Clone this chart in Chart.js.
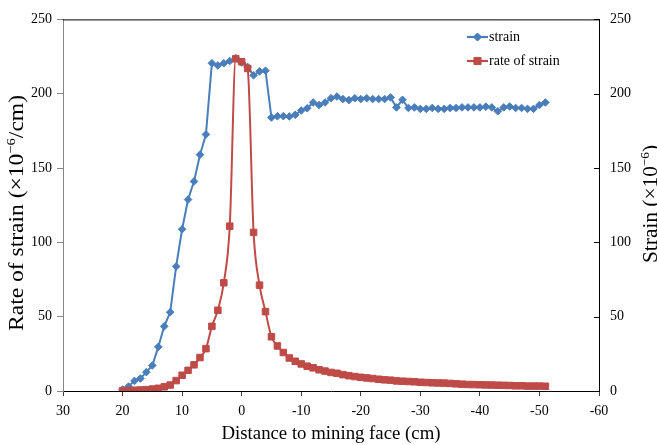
<!DOCTYPE html>
<html>
<head>
<meta charset="utf-8">
<script src="https://cdn.jsdelivr.net/npm/chart.js@4.4.0/dist/chart.umd.min.js"></script>
<style>
    html, body { margin: 0; padding: 0; background: #fff; }
    #wrap { width: 657px; height: 445px; }
</style>
</head>
<body>
<div id="wrap"><canvas id="chart" width="657" height="445"></canvas></div>
<script>
// Distance to mining face (cm)
var distance = [20, 19, 18, 17, 16, 15, 14, 13, 12, 11, 10, 9, 8, 7, 6, 5, 4, 3, 2, 1, 0,
    -1, -2, -3, -4, -5, -6, -7, -8, -9, -10, -11, -12, -13, -14, -15, -16, -17, -18, -19, -20,
    -21, -22, -23, -24, -25, -26, -27, -28, -29, -30, -31, -32, -33, -34, -35, -36, -37, -38, -39, -40,
    -41, -42, -43, -44, -45, -46, -47, -48, -49, -50, -51];

// strain (x10^-6)
var strain = [1, 3, 6.8, 8.4, 12.7, 17.2, 29.7, 43.5, 53, 83.8, 108.8, 128.8, 141, 159, 172.6, 220.5, 219, 220.5, 222, 224, 221,
    218, 212.4, 215, 215.5, 184, 184.8, 184.9, 184.7, 185.8, 188.7, 190.2, 194.1, 192.4, 194.1, 197, 198.1, 196.4, 195.7, 197, 196.4,
    197, 196.4, 196.4, 196.4, 197.5, 190.8, 195.9, 190.4, 190.8, 189.8, 189.8, 190.4, 189.8, 189.8, 190.4, 190.4, 190.8, 190.8, 190.8, 190.8,
    191.3, 190.8, 188.2, 190.8, 191.4, 190.4, 190.4, 189.8, 189.8, 192.4, 194.1];

// rate of strain (x10^-6/cm)
var strainRate = [0.2, 0.3, 0.5, 0.7, 0.9, 1.3, 1.8, 2.8, 4.0, 7.0, 10.6, 13.9, 17.6, 22.5, 28.5, 43.5, 54.3, 72.8, 110.9, 223.5, 221.5,
    217, 106.7, 71.2, 53.4, 36.5, 30.3, 25.9, 22.2, 20.0, 18.2, 16.7, 15.6, 14.3, 13.4, 12.5, 11.9, 11.0, 10.3, 9.7, 9.2,
    8.8, 8.4, 7.9, 7.5, 7.3, 6.8, 6.6, 6.4, 6.2, 5.9, 5.7, 5.5, 5.4, 5.3, 5.1, 4.8, 4.6, 4.4, 4.3, 4.2,
    4.1, 4.0, 3.9, 3.8, 3.7, 3.5, 3.5, 3.3, 3.3, 3.3, 3.2];

var xTicks = [30, 20, 10, 0, -10, -20, -30, -40, -50, -60];
var yTicks = [0, 50, 100, 150, 200, 250];

var blue = '#4A7EBB';
var red = '#BE4B48';
var serif = '"Liberation Serif", "Times New Roman", serif';

function toPoints(vals) {
    return vals.map(function(v, i){ return {x: distance[i], y: v}; });
}

function setTicks(list) {
    return function(scale){
        scale.ticks = list.map(function(v){ return {value: v}; });
    };
}

// text with a superscript piece, centred on (x, y), rotated and stretched to a given length
function drawLabel(ctx, parts, x, y, rot, size, len) {
    var supSize = Math.round(size * 0.62);
    var total = 0;
    parts.forEach(function(p){
        ctx.font = (p.sup ? supSize : size) + 'px ' + serif;
        p.w = ctx.measureText(p.t).width;
        total += p.w;
    });
    ctx.save();
    ctx.translate(x, y);
    ctx.rotate(rot);
    ctx.scale(len / total, 1);
    ctx.fillStyle = '#000';
    ctx.textBaseline = 'alphabetic';
    var cx = -total / 2;
    parts.forEach(function(p){
        ctx.font = (p.sup ? supSize : size) + 'px ' + serif;
        ctx.fillText(p.t, cx, p.sup ? size * 0.35 - size * 0.42 : size * 0.35);
        cx += p.w;
    });
    ctx.restore();
}

var decor = {
    id: 'decor',
    afterDraw: function(chart) {
        var ctx = chart.ctx;
        var a = chart.chartArea;
        var y1 = chart.scales.y1;

        // top frame line + inward ticks on right axis
        ctx.save();
        ctx.strokeStyle = '#000';
        ctx.lineWidth = 1;
        ctx.beginPath();
        ctx.moveTo(a.left, a.top + 0.5);
        ctx.lineTo(a.right, a.top + 0.5);
        yTicks.forEach(function(v){
            var py = Math.round(y1.getPixelForValue(v)) + 0.5;
            ctx.moveTo(a.right - 5, py);
            ctx.lineTo(a.right, py);
        });
        ctx.stroke();
        ctx.restore();

        // axis titles
        drawLabel(ctx, [{t: 'Rate of strain (×10'}, {t: '−6', sup: true}, {t: '/cm)'}], 16, 213, -Math.PI / 2, 21, 236);
        drawLabel(ctx, [{t: 'Strain (×10'}, {t: '−6', sup: true}, {t: ')'}], 650, 204, -Math.PI / 2, 21, 118);
        drawLabel(ctx, [{t: 'Distance to mining face (cm)'}], 331, 432, 0, 19, 219);

        // legend in the plot area
        var items = [
            {label: 'strain', color: blue, style: 'rectRot', r: 4, y: 37},
            {label: 'rate of strain', color: red, style: 'rect', r: 5, y: 61}
        ];
        items.forEach(function(it){
            ctx.save();
            ctx.strokeStyle = it.color;
            ctx.lineWidth = 2.2;
            ctx.beginPath();
            ctx.moveTo(467, it.y);
            ctx.lineTo(488, it.y);
            ctx.stroke();
            ctx.fillStyle = it.color;
            ctx.lineWidth = 1;
            Chart.helpers.drawPoint(ctx, {pointStyle: it.style, radius: it.r, borderWidth: 1}, 477.5, it.y);
            ctx.fill();
            ctx.restore();
            ctx.fillStyle = '#000';
            ctx.font = '14px ' + serif;
            ctx.textBaseline = 'middle';
            ctx.fillText(it.label, 489, it.y);
        });
    }
};

var ctx = document.getElementById('chart').getContext('2d');
var chart = new Chart(ctx, {
    type: 'line',
    data: {
        datasets: [
            {
                label: 'strain',
                data: toPoints(strain),
                yAxisID: 'y1',
                borderColor: blue,
                backgroundColor: blue,
                borderWidth: 2,
                pointStyle: 'rectRot',
                pointRadius: 3.8,
                pointBorderWidth: 1,
                tension: 0,
                order: 1
            },
            {
                label: 'rate of strain',
                data: toPoints(strainRate),
                yAxisID: 'y',
                borderColor: red,
                backgroundColor: red,
                borderWidth: 2,
                pointStyle: 'rect',
                pointRadius: 4.6,
                pointBorderWidth: 1,
                cubicInterpolationMode: 'monotone',
                order: 0
            }
        ]
    },
    options: {
        responsive: false,
        animation: false,
        devicePixelRatio: 1,
        layout: { padding: { top: 12, left: 0, right: 0, bottom: 0 } },
        plugins: { legend: { display: false }, tooltip: { enabled: false } },
        scales: {
            x: {
                type: 'linear',
                reverse: true,
                min: -60,
                max: 30,
                afterBuildTicks: setTicks(xTicks),
                afterFit: function(s){ s.height = 54; },
                border: { color: '#000', width: 1 },
                grid: { drawOnChartArea: false, drawTicks: true, tickLength: 5, color: '#404040' },
                ticks: { color: '#000', font: { family: serif, size: 14 }, padding: 7, maxRotation: 0 }
            },
            y: {
                position: 'left',
                min: 0,
                max: 250,
                afterBuildTicks: setTicks(yTicks),
                afterFit: function(s){ s.width = 63; },
                border: { color: '#868686', width: 1 },
                grid: { drawOnChartArea: false, drawTicks: true, tickLength: 6, color: '#868686' },
                ticks: { color: '#000', font: { family: serif, size: 14 }, padding: 5 }
            },
            y1: {
                position: 'right',
                min: 0,
                max: 250,
                afterBuildTicks: setTicks(yTicks),
                afterFit: function(s){ s.width = 58; },
                border: { color: '#000', width: 1 },
                grid: { drawOnChartArea: false, drawTicks: false },
                ticks: { color: '#000', font: { family: serif, size: 14 }, padding: 11 }
            }
        }
    },
    plugins: [decor]
});
</script>
</body>
</html>
